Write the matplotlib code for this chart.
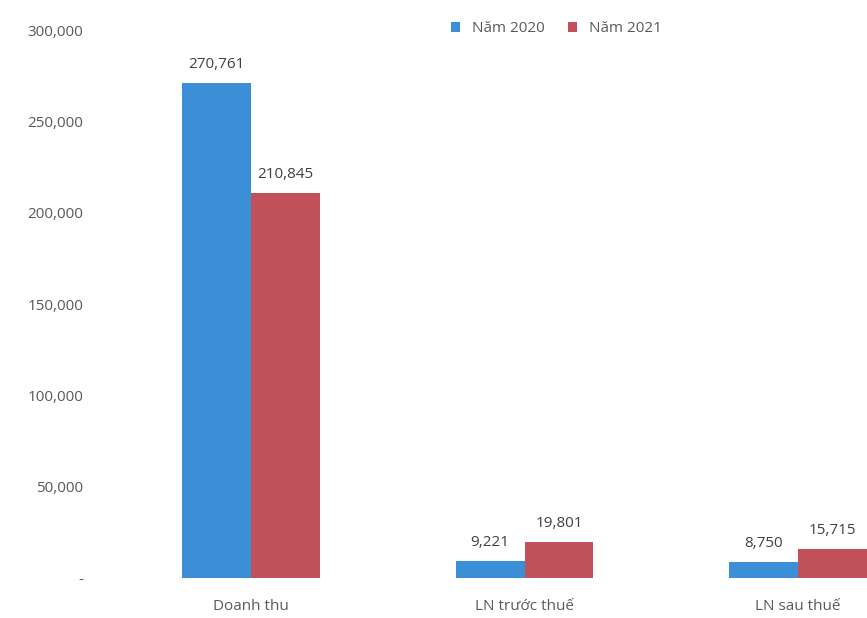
import matplotlib.pyplot as plt
from matplotlib.ticker import FuncFormatter

categories = ['Doanh thu', 'LN trước thuế', 'LN sau thuế']
series_names = ['Năm 2020', 'Năm 2021']
values_2020 = [270761, 9221, 8750]
values_2021 = [210845, 19801, 15715]
colors = ['#3b8fd6', '#c0505a']

plt.rcParams['font.family'] = ['Open Sans', 'DejaVu Sans']

fig = plt.figure(figsize=(8.67, 6.18), dpi=100)
ax = fig.add_axes([100 / 867, 1 - 578 / 618, 767 / 867, 548 / 618])

width = 0.252
x = range(len(categories))
for vals, name, color, shift in [(values_2020, series_names[0], colors[0], -0.5),
                                 (values_2021, series_names[1], colors[1], 0.5)]:
    pos = [i + shift * width for i in x]
    bars = ax.bar(pos, vals, width=width, color=color, label=name)
    for b, v in zip(bars, vals):
        ax.annotate(f'{v:,}', (b.get_x() + b.get_width() / 2, v),
                    xytext=(0, 8), textcoords='offset points',
                    ha='center', va='bottom', fontsize=11, color='#404040')

ax.set_xlim(-0.552, 2.252)
ax.set_ylim(0, 300000)
ax.set_yticks(range(0, 300001, 50000))
ax.yaxis.set_major_formatter(FuncFormatter(lambda v, p: '-' if v == 0 else f'{int(v):,}'))
ax.set_xticks(list(x))
ax.set_xticklabels(categories)
ax.tick_params(axis='both', length=0, labelsize=11, labelcolor='#595959')
ax.tick_params(axis='x', pad=15)
ax.tick_params(axis='y', pad=12)
for s in ax.spines.values():
    s.set_visible(False)

fig.legend(loc='upper center', bbox_to_anchor=(0.642, 0.988), ncol=2, frameon=False,
           fontsize=11, handlelength=0.6, handleheight=0.6, columnspacing=1.5,
           labelcolor='#595959')

fig.savefig('out.png', dpi=100)
